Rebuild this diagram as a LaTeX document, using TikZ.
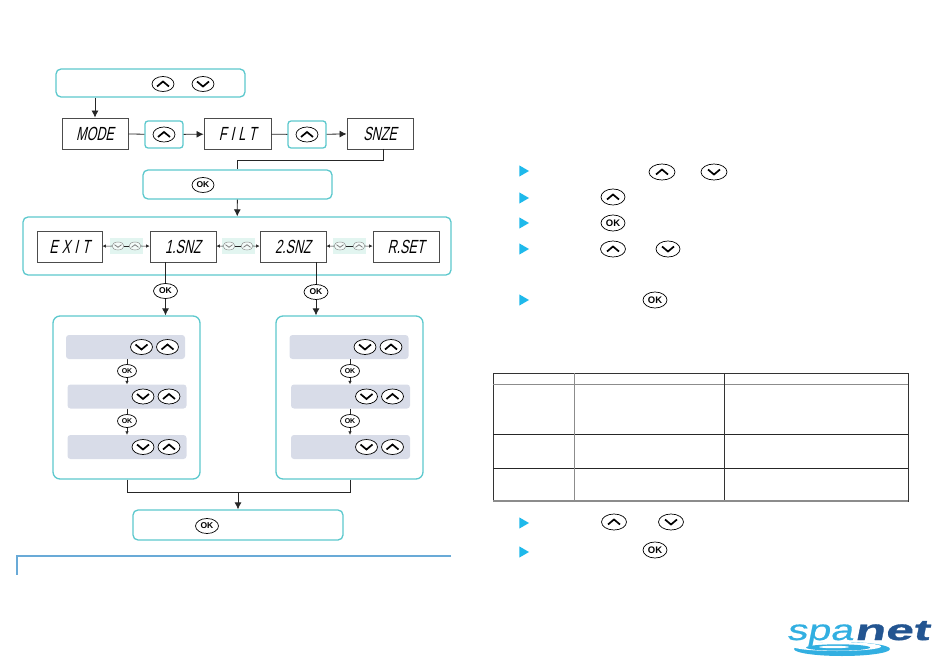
\documentclass[tikz,border=0pt]{standalone}
\usepackage{fontspec}
\newfontfamily\lcdfont[FakeSlant=0.22,FakeStretch=0.66]{Liberation Sans}
\newfontfamily\lcdwide[FakeSlant=0.22,FakeStretch=0.66,LetterSpace=22]{Liberation Sans}
\newfontfamily\keyfont[BoldFont={Liberation Sans Bold}]{Liberation Sans}
\newfontfamily\spafont[FakeSlant=0.2,FakeStretch=1.42,FakeBold=0.6]{Liberation Sans}
\newfontfamily\netfont[FakeSlant=0.2,FakeStretch=1.72,FakeBold=1.2]{Liberation Sans Bold}
\usetikzlibrary{
  arrows.meta,%
  shapes.geometric%
}
\definecolor{tealline}{RGB}{92,200,205}
\definecolor{bluerule}{RGB}{105,170,215}
\definecolor{rowgrey}{RGB}{216,220,232}
\definecolor{mintpad}{RGB}{226,245,240}
\definecolor{bulletblue}{RGB}{30,185,235}
\definecolor{spablue}{RGB}{50,175,225}
\definecolor{netblue}{RGB}{35,85,145}
\tikzset{>={Latex[length=7pt,width=7pt]}}
\tikzset{
  lcd/.style={draw=black!70, line width=0.9pt, minimum width=66pt, minimum height=31pt,
    inner sep=0pt, font=\lcdfont\fontsize{19}{19}\selectfont},
  lcdgap/.style={lcd, font=\lcdwide\fontsize{19}{19}\selectfont},
  tealbox/.style={draw=tealline, line width=1.3pt, rounded corners=5pt, inner sep=0pt},
  keybase/.style={shape=ellipse, draw=black, line width=0.7pt, inner sep=0pt,
    minimum width=22pt, minimum height=15pt, fill=white},
  keyup/.style={keybase, path picture={
    \draw[shift={(path picture bounding box.center)}, line width=1.7pt] (-6,2.5) -- (0,-2.5) -- (6,2.5);}},
  keydn/.style={keybase, path picture={
    \draw[shift={(path picture bounding box.center)}, line width=1.7pt] (-6,-2.5) -- (0,2.5) -- (6,-2.5);}},
  keyok/.style={keybase, font=\keyfont\bfseries\fontsize{8.5}{8.5}\selectfont},
  oksmall/.style={keyok, minimum width=19pt, minimum height=13pt, font=\keyfont\bfseries\fontsize{7}{7}\selectfont},
  tinyup/.style={keybase, draw=black!50, fill=mintpad!40, line width=0.4pt, minimum width=12pt, minimum height=8pt, path picture={
    \draw[shift={(path picture bounding box.center)}, line width=0.8pt] (-3.5,1.3) -- (0,-1.3) -- (3.5,1.3);}},
  tinydn/.style={keybase, draw=black!50, fill=mintpad!40, line width=0.4pt, minimum width=12pt, minimum height=8pt, path picture={
    \draw[shift={(path picture bounding box.center)}, line width=0.8pt] (-3.5,-1.3) -- (0,1.3) -- (3.5,-1.3);}},
  mint/.style={fill=mintpad, minimum width=33pt, minimum height=16pt, inner sep=0pt},
  greyrow/.style={fill=rowgrey, rounded corners=3pt, minimum width=119pt, minimum height=24pt, inner sep=0pt},
  flow/.style={draw=black!85, line width=0.8pt},
  thinarr/.style={flow, line width=0.5pt, -{Latex[length=3.5pt,width=3.5pt]}},
  bulletmark/.style={regular polygon, regular polygon sides=3, shape border rotate=-90,
    fill=bulletblue, minimum size=13pt, inner sep=0pt}
}
\begin{document}
\begin{tikzpicture}[x=1pt, y=-1pt]
  \useasboundingbox (0,0) rectangle (950,660);
  % top of the flow
  \node[tealbox, minimum width=189pt, minimum height=28pt] (topbox) at (150.5,83) {};
  \node[keyup] (topup) at (163,84) {};
  \node[keydn] (topdn) at (203,84) {};
  \node[lcd] (mode) at (95,133.5) {MODE};
  \node[lcdgap, minimum width=67pt] (filt) at (237.5,134) {FILT};
  \node[lcd] (snze) at (380,133.5) {SNZE};
  \node[tealbox, rounded corners=3pt, minimum width=38pt, minimum height=27pt] (padone) at (164,134.5) {};
  \node[tealbox, rounded corners=3pt, minimum width=38pt, minimum height=27pt] (padtwo) at (307,134.5) {};
  \node[keyup] (upone) at (padone) {};
  \node[keyup] (uptwo) at (padtwo) {};
  \draw[flow, ->] (topbox.south -| mode) -- (mode);
  \draw[flow] (mode) -- (padone);
  \draw[flow, ->] (padone) -- (filt);
  \draw[flow] (filt) -- (padtwo);
  \draw[flow, ->] (padtwo) -- (snze);
  % enter the snooze menu
  \node[tealbox, minimum width=189pt, minimum height=29pt] (okbox) at (237.5,184.5) {};
  \node[keyok] (okenter) at (203,185) {OK};
  \coordinate (snzeout) at (383,149);
  \draw[flow] (snzeout) -- ++(0,11) -| (okbox.north);
  \node[tealbox, minimum width=428pt, minimum height=58pt] (menubox) at (237,246) {};
  \draw[flow, ->] (okbox) -- (menubox);
  \node[lcdgap, minimum width=65pt] (exit) at (69.5,246.5) {EXIT};
  \node[lcd] (snzone) at (183,246.5) {1.SNZ};
  \node[lcd] (snztwo) at (293,246.5) {2.SNZ};
  \node[lcd] (rset) at (406,246.5) {R.SET};
  \foreach \a/\b/\xd/\xu in {exit/snzone/118/135, snzone/snztwo/229/247, snztwo/rset/340/359}
  {
    \node[mint] (\a pad) at ({(\xd+\xu)/2},246) {};
    \node[tinydn] (\a dn) at (\xd,246) {};
    \node[tinyup] (\a up) at (\xu,246) {};
    \draw[flow, line width=0.4pt] (\a dn) -- (\a up);
    \draw[thinarr] (\a dn.west) -- (\a);
    \draw[thinarr] (\a up.east) -- (\b);
  }
  % the two timer panels
  \node[tealbox, rounded corners=7pt, minimum width=147pt, minimum height=163pt] (panell) at (126.5,397.5) {};
  \node[tealbox, rounded corners=7pt, minimum width=147pt, minimum height=163pt] (panelr) at (349.5,397.5) {};
  \node[keyok, minimum width=24pt] (okl) at (165.5,291) {OK};
  \node[keyok, minimum width=24pt] (okr) at (316,292) {OK};
  \draw[flow] (snzone.south -| okl) -- (okl);
  \draw[flow] (snztwo.south -| okr) -- (okr);
  \draw[flow, ->] (okl) -- (panell.north -| okl);
  \draw[flow, ->] (okr) -- (panelr.north -| okr);
  \foreach \p/\xa/\xb/\xk in {l/125.5/127/127, r/349/350.5/350}
  {
    \node[greyrow] (\p rowa) at (\xa,347) {};
    \node[greyrow] (\p rowb) at (\xb,396.5) {};
    \node[greyrow] (\p rowc) at (\xb,447) {};
    \foreach \r in {a,b,c}
    {
      \node[keydn, xshift=16pt] (\p dn\r) at (\p row\r) {};
      \node[keyup, xshift=42pt] (\p up\r) at (\p row\r) {};
    }
    \node[oksmall] (\p oka) at (\xk,371) {OK};
    \node[oksmall] (\p okb) at (\xk,421) {OK};
    \draw[flow, line width=0.5pt] (\p rowa.south -| \p oka) -- (\p oka);
    \draw[flow, line width=0.5pt] (\p rowb.south -| \p okb) -- (\p okb);
    \draw[thinarr] (\p oka) -- (\p rowb.north -| \p oka);
    \draw[thinarr] (\p okb) -- (\p rowc.north -| \p okb);
  }
  % leaving the menu
  \node[tealbox, minimum width=210pt, minimum height=30pt] (endbox) at (238,525) {};
  \node[keyok, minimum width=23pt] (okend) at (207,526) {OK};
  \coordinate (joinpt) at (238,492);
  \draw[flow] (panell.south -| lokb) |- (joinpt);
  \draw[flow] (panelr.south -| rokb) |- (joinpt);
  \draw[flow, ->] (joinpt) -- (endbox);
  \coordinate (rulea) at (451,556);
  \coordinate (ruleb) at (17,575);
  \draw[bluerule, line width=1.2pt] (rulea) -| (ruleb);
  % steps on the right
  \foreach \n/\y in {a/171, b/198, c/223, d/249, e/300, f/523, g/552}
  {
    \node[bulletmark] (bullet\n) at (522.5,\y) {};
  }
  \node[keyup, minimum width=26pt, minimum height=16pt] (stepup) at (662,172) {};
  \node[keydn, minimum width=26pt, minimum height=16pt] (stepdn) at (714,172) {};
  \node[keyup, minimum width=24pt, minimum height=16pt] (stepupb) at (613,197) {};
  \node[keyok, minimum width=24pt, minimum height=16pt, font=\keyfont\bfseries\fontsize{9.5}{9.5}\selectfont] (stepok) at (613,223) {OK};
  \node[keyup, minimum width=25pt, minimum height=16pt] (stepupc) at (613,249) {};
  \node[keydn, minimum width=24pt, minimum height=16pt] (stepdnc) at (668,249) {};
  \node[keyok, minimum width=24pt, minimum height=16pt, font=\keyfont\bfseries\fontsize{9.5}{9.5}\selectfont] (stepokb) at (655,300) {OK};
  \node[keyup, minimum width=25pt, minimum height=16pt] (stepupd) at (614,522) {};
  \node[keydn, minimum width=25pt, minimum height=16pt] (stepdnd) at (671,522) {};
  \node[keyok, minimum width=24pt, minimum height=16pt, font=\keyfont\bfseries\fontsize{9.5}{9.5}\selectfont] (stepoke) at (655,550) {OK};
  % table
  \begin{scope}[line width=0.8pt]
    \draw[black!80] (493,373) rectangle (908,501);
    \draw[black!45] (493,384) -- (908,384);
    \foreach \y in {434, 468}
    {
      \draw[black!85] (493,\y) -- (908,\y);
    }
    \draw[black!45] (574,373) -- (574,501);
    \draw[black!80] (724,373) -- (724,501);
    \draw[black!45, line width=1.2pt] (493,501) -- (908,501);
  \end{scope}
  % logo
  \fill[spablue] (842,649) ellipse (48 and 7);
  \fill[white] (837,646.5) ellipse (44 and 4.5);
  \fill[spablue] (838,647.5) ellipse (32 and 3.2);
  \fill[white] (834,647) ellipse (15 and 1.2);
  \node[anchor=base east, inner sep=0pt, text=spablue, font=\spafont\fontsize{29}{29}\selectfont] (spaword) at (853,640) {spa};
  \node[anchor=base west, inner sep=0pt, text=netblue, font=\netfont\fontsize{29}{29}\selectfont] (netword) at (854,640) {net};
\end{tikzpicture}
\end{document}
